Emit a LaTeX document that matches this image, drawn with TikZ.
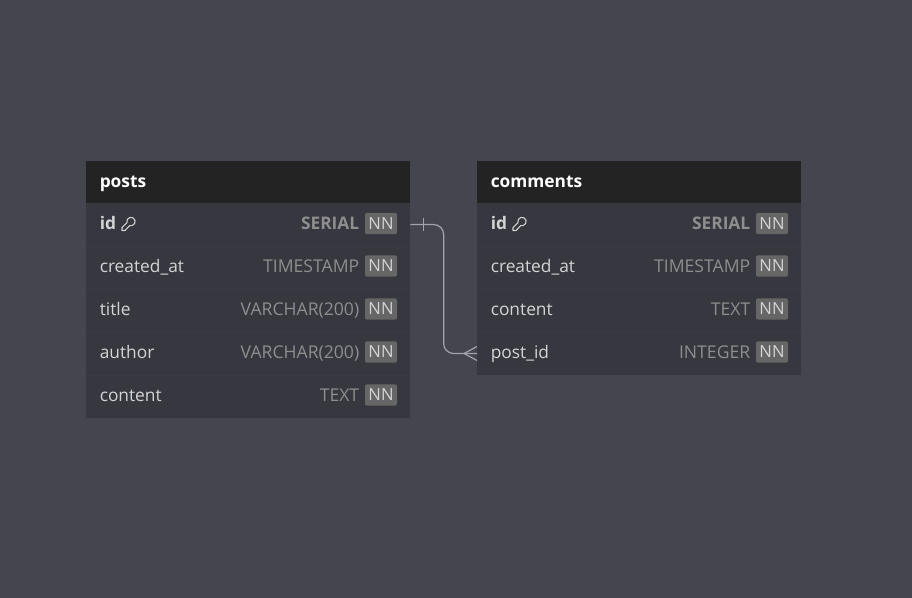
\documentclass[tikz,border=0pt]{standalone}
\usepackage{xcolor}
\usepackage{fontspec}
\setmainfont{Open Sans}
\usetikzlibrary{calc}
\definecolor{mCanvas}{HTML}{44454E}
\definecolor{mHeader}{HTML}{232323}
\definecolor{mRow}{HTML}{36373F}
\definecolor{mRowLine}{HTML}{3A3B43}
\definecolor{mBadge}{HTML}{666666}
\definecolor{mName}{HTML}{D4D4D4}
\definecolor{mType}{HTML}{8E8E8E}
\definecolor{mLink}{HTML}{A3A3AD}

\begin{document}
\begin{tikzpicture}[
    x=0.75pt, y=-0.75pt,
    headbox/.style={rectangle, fill=mHeader, minimum width=243pt, minimum height=31.5pt, inner sep=0pt},
    rowbox/.style={rectangle, fill=mRow, minimum width=243pt, minimum height=32.25pt, inner sep=0pt},
    headname/.style={anchor=west, inner sep=0pt, text=white, text height=10pt, text depth=3pt, font=\bfseries\fontsize{13}{15}\selectfont},
    fieldname/.style={anchor=west, inner sep=0pt, text=mName, text height=10pt, text depth=3pt, font=\fontsize{13}{15}\selectfont},
    typename/.style={anchor=east, inner sep=0pt, text=mType, text height=10pt, text depth=3pt, font=\fontsize{13.2}{15}\selectfont},
    nnbadge/.style={rectangle, fill=mBadge, rounded corners=1.5pt, minimum width=24pt, minimum height=16pt, inner sep=0pt, text=mName, font=\fontsize{12.5}{15}\selectfont},
    rowline/.style={mRowLine, line width=0.75pt},
    link/.style={mLink, line width=0.9pt},
    keyicon/.pic={
        \draw[mName, line width=0.8pt, line join=round] (-1.06,-1.41) arc (165:465:4.2) -- (-3,6.5) -- (-6,6.5) -- (-6,3.5) -- cycle;
    }
]
    \useasboundingbox[fill=mCanvas] (0,0) rectangle (912,598);

    % posts table
    \node[headbox] (posts) at (248,182) {};
    \node[rowbox] (postsid) at (248,224.5) {};
    \node[rowbox] (postscreated) at (248,267.5) {};
    \node[rowbox] (poststitle) at (248,310.5) {};
    \node[rowbox] (postsauthor) at (248,353.5) {};
    \node[rowbox] (postscontent) at (248,396.5) {};
    \draw[rowline] (postsid.south west) -- (postsid.south east);
    \draw[rowline] (postscreated.south west) -- (postscreated.south east);
    \draw[rowline] (poststitle.south west) -- (poststitle.south east);
    \draw[rowline] (postsauthor.south west) -- (postsauthor.south east);

    \node[headname] (poststext) at (99.5,183) {posts};
    \node[fieldname, font=\bfseries\fontsize{13}{15}\selectfont] (postsidtext) at (99.5,225) {id};
    \node[fieldname] (postscreatedtext) at (99.5,267.5) {created\_at};
    \node[fieldname] (poststitletext) at (99.5,310.5) {title};
    \node[fieldname] (postsauthortext) at (99.5,353.5) {author};
    \node[fieldname] (postscontenttext) at (99.5,396.5) {content};
    \pic at (128,224) {keyicon};

    \node[typename, font=\bfseries\fontsize{13}{15}\selectfont] (postsidtype) at (359.5,225) {SERIAL};
    \node[typename] (postscreatedtype) at (359.5,267.5) {TIMESTAMP};
    \node[typename] (poststitletype) at (359.5,310.5) {VARCHAR(200)};
    \node[typename] (postsauthortype) at (359.5,353.5) {VARCHAR(200)};
    \node[typename] (postscontenttype) at (359.5,396.5) {TEXT};

    \node[nnbadge] (postsidnn) at (381,223.5) {NN};
    \node[nnbadge] (postscreatednn) at (381,266) {NN};
    \node[nnbadge] (poststitlenn) at (381,309) {NN};
    \node[nnbadge] (postsauthornn) at (381,352) {NN};
    \node[nnbadge] (postscontentnn) at (381,395) {NN};

    % comments table
    \node[headbox] (comments) at (639.3,182) {};
    \node[rowbox] (commentsid) at (639.3,224.5) {};
    \node[rowbox] (commentscreated) at (639.3,267.5) {};
    \node[rowbox] (commentscontent) at (639.3,310.5) {};
    \node[rowbox] (commentspost) at (639.3,353.5) {};
    \draw[rowline] (commentsid.south west) -- (commentsid.south east);
    \draw[rowline] (commentscreated.south west) -- (commentscreated.south east);
    \draw[rowline] (commentscontent.south west) -- (commentscontent.south east);

    \node[headname] (commentstext) at (490.5,183) {comments};
    \node[fieldname, font=\bfseries\fontsize{13}{15}\selectfont] (commentsidtext) at (490.5,225) {id};
    \node[fieldname] (commentscreatedtext) at (490.5,267.5) {created\_at};
    \node[fieldname] (commentscontenttext) at (490.5,310.5) {content};
    \node[fieldname] (commentsposttext) at (490.5,353.5) {post\_id};
    \pic at (519,224) {keyicon};

    \node[typename, font=\bfseries\fontsize{13}{15}\selectfont] (commentsidtype) at (750.5,225) {SERIAL};
    \node[typename] (commentscreatedtype) at (750.5,267.5) {TIMESTAMP};
    \node[typename] (commentscontenttype) at (750.5,310.5) {TEXT};
    \node[typename] (commentsposttype) at (750.5,353.5) {INTEGER};

    \node[nnbadge] (commentsidnn) at (772,223.5) {NN};
    \node[nnbadge] (commentscreatednn) at (772,266) {NN};
    \node[nnbadge] (commentscontentnn) at (772,309) {NN};
    \node[nnbadge] (commentspostnn) at (772,352) {NN};

    % relation with its two ends
    \draw[link, rounded corners=7.5pt] (postsid.east) -| ($(postsid.east)!0.5!(commentspost.west)$) |- (commentspost.west);
    \draw[link] ($(postsid.east)+(13.5,-6.5)$) -- ++(0,13);
    \draw[link] ($(commentspost.west)+(0,-7)$) -- ++(-13,7) -- ++(13,7);
\end{tikzpicture}
\end{document}
